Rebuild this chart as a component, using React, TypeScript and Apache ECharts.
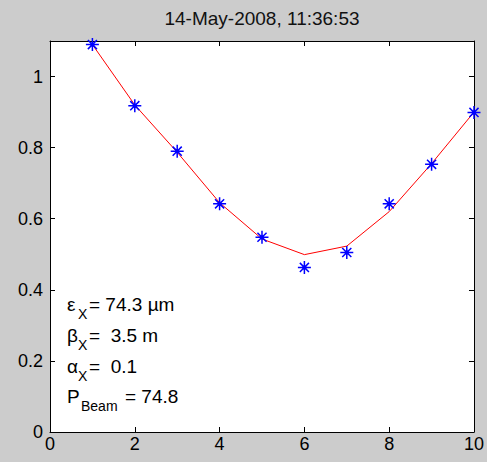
import React, { useEffect, useRef } from "react";
import * as echarts from "echarts";

const titleText = "14-May-2008, 11:36:53";
const xValues = [1, 2, 3, 4, 5, 6, 7, 8, 9, 10];
const measured = [1.09, 0.918, 0.79, 0.642, 0.548, 0.463, 0.505, 0.642, 0.753, 0.899];
const fitted = [1.09, 0.92, 0.787, 0.645, 0.543, 0.499, 0.523, 0.62, 0.755, 0.9];
const xTicks = { min: 0, max: 10, interval: 2 };
const yTicks = { min: 0, max: 1.1, interval: 0.2 };
const annotations = [
  { sym: "ε", sub: "X", rest: "= 74.3 µm" },
  { sym: "β", sub: "X", rest: "=  3.5 m" },
  { sym: "α", sub: "X", rest: "=  0.1" },
  { sym: "P", sub: "Beam", rest: "= 74.8" },
];

const FONT = "Liberation Sans";

export default function App() {
  const ref = useRef<HTMLDivElement>(null);
  useEffect(() => {
    if (!ref.current) return;
    const chart = echarts.init(ref.current, null, { renderer: "svg" });
    const fitData = xValues.map((x, i) => [x, fitted[i]]);
    const measData = xValues.map((x, i) => [x, measured[i]]);

    const axisCommon = {
      type: "value" as const,
      axisLine: { show: true, onZero: false, lineStyle: { color: "#000", width: 1 } },
      axisTick: { show: true, inside: true, length: 5, lineStyle: { color: "#000", width: 1 } },
      splitLine: { show: false },
    };
    const labelStyle = { color: "#000", fontFamily: FONT, fontSize: 18 };

    const graphics: any[] = [
      {
        type: "text",
        x: 262,
        y: 18,
        style: {
          text: titleText,
          fontFamily: FONT,
          fontSize: 19,
          fill: "#111",
          align: "center",
          verticalAlign: "middle",
        },
      },
    ];
    const lineY = [304, 335, 366, 396];
    annotations.forEach((a, i) => {
      const y = lineY[i];
      const isBeam = a.sub.length > 1;
      graphics.push({
        type: "text",
        x: 67,
        y,
        style: { text: a.sym, fontFamily: FONT, fontSize: 19, fill: "#000", verticalAlign: "middle" },
      });
      graphics.push({
        type: "text",
        x: isBeam ? 81 : 78,
        y: y + 10,
        style: { text: a.sub, fontFamily: FONT, fontSize: 14, fill: "#000", verticalAlign: "middle" },
      });
      graphics.push({
        type: "text",
        x: isBeam ? 125 : 89,
        y,
        style: { text: a.rest, fontFamily: FONT, fontSize: 19, fill: "#000", verticalAlign: "middle" },
      });
    });

    chart.setOption({
      animation: false,
      backgroundColor: "#cccccc",
      grid: {
        left: 50,
        right: 11,
        top: 41,
        bottom: 30,
        show: true,
        backgroundColor: "#ffffff",
        borderWidth: 0,
      },
      xAxis: [
        {
          ...axisCommon,
          position: "bottom",
          ...xTicks,
          axisLabel: { ...labelStyle, margin: 3 },
        },
        {
          ...axisCommon,
          position: "top",
          ...xTicks,
          axisLabel: { show: false },
        },
      ],
      yAxis: [
        {
          ...axisCommon,
          position: "left",
          ...yTicks,
          axisLabel: {
            ...labelStyle,
            margin: 7,
            formatter: (v: number) => (v > 1.05 ? "" : String(Math.round(v * 10) / 10)),
          },
        },
        {
          ...axisCommon,
          position: "right",
          ...yTicks,
          axisLabel: { show: false },
        },
      ],
      series: [
        {
          type: "line",
          data: fitData,
          xAxisIndex: 0,
          yAxisIndex: 0,
          symbol: "none",
          lineStyle: { color: "#ff0000", width: 1 },
          z: 2,
        },
        {
          type: "scatter",
          data: measData,
          xAxisIndex: 0,
          yAxisIndex: 0,
          symbol: "path://M6 0 L6 12 M0 6 L12 6 M1.8 1.8 L10.2 10.2 M1.8 10.2 L10.2 1.8",
          symbolSize: 13,
          itemStyle: { color: "none", borderColor: "#0000ff", borderWidth: 1.5, opacity: 1 },
          z: 3,
        },
        {
          type: "scatter",
          data: measData,
          xAxisIndex: 0,
          yAxisIndex: 0,
          symbol: "circle",
          symbolSize: 4,
          itemStyle: { color: "#0000ff" },
          z: 4,
        },
      ],
      graphic: graphics,
    });
    return () => chart.dispose();
  }, []);
  return (
    <div
      ref={ref}
      style={{ position: "absolute", left: 0, top: 0, width: 487, height: 462 }}
    />
  );
}
